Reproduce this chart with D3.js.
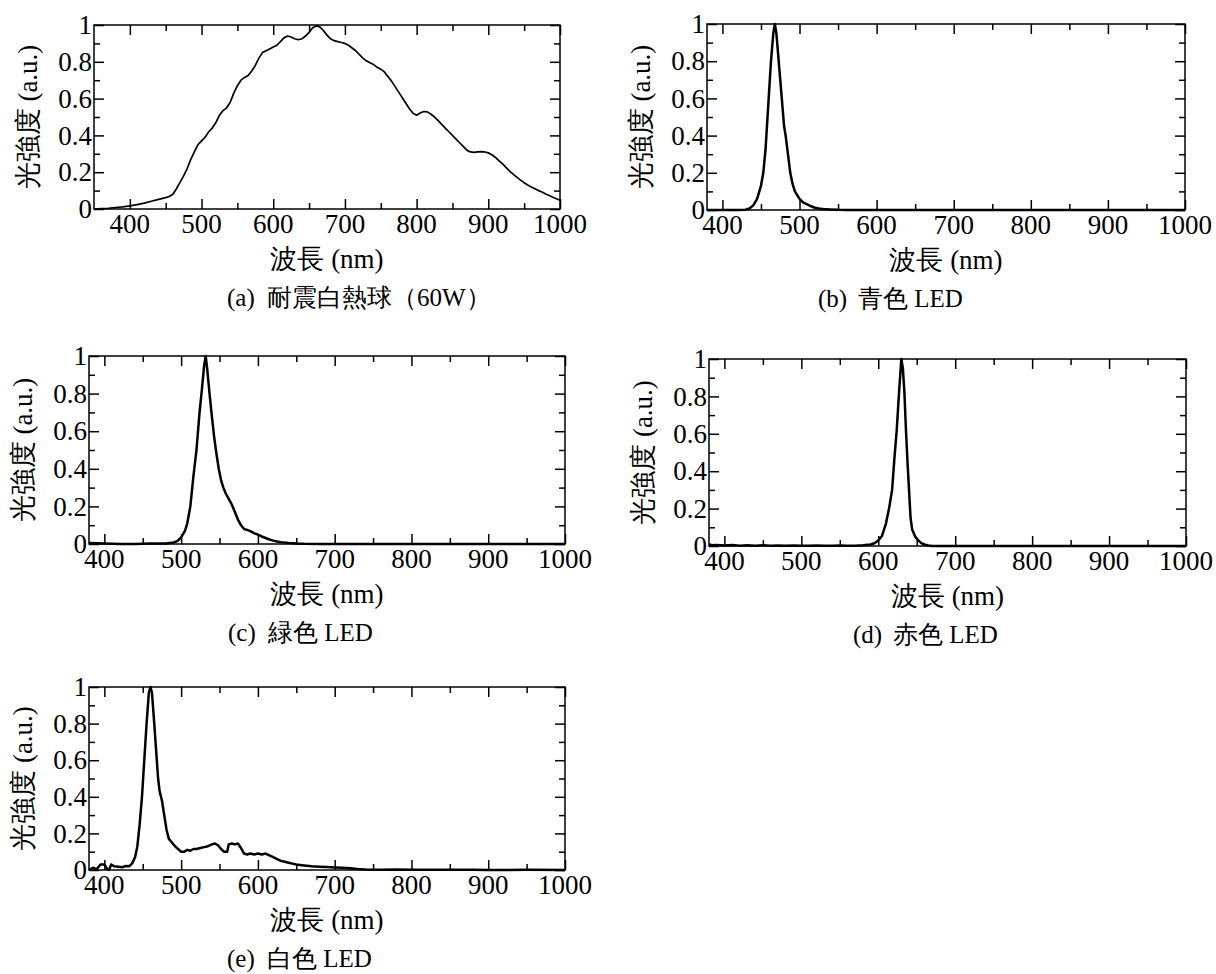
<!DOCTYPE html>
<html>
  <head>
    <meta charset="utf-8">
    <script src="https://d3js.org/d3.v7.min.js"></script>
    <style>
      body {
          margin: 0;
          background: #fff;
      }
      .frame { fill: none; stroke: #000; stroke-width: 1.5px; }
      .spectrum { fill: none; stroke: #000; stroke-linejoin: round; }
    </style>
  </head>
  <body>
    <svg width="1216" height="974"></svg>
    <script>

    var FONT = "Liberation Serif";

    // tick values
    var xMajor = [400, 500, 600, 700, 800, 900, 1000],
        xMinor = [350, 450, 550, 650, 750, 850, 950],
        yMajor = [0, 0.2, 0.4, 0.6, 0.8, 1],
        yMinor = [0.1, 0.3, 0.5, 0.7, 0.9];

    // (a) 耐震白熱球 (60W)
    var wlA = [350,360,370,380,390,400,410,420,430,440,450,455,460,465,470,475,480,485,490,495,
               500,505,510,515,520,525,530,535,540,545,550,555,560,565,570,575,580,585,590,595,
               600,605,610,615,620,625,630,635,640,645,650,655,660,665,670,675,680,685,690,695,
               700,705,710,715,720,725,730,735,740,745,750,755,760,765,770,775,780,785,790,795,
               800,805,810,815,820,825,830,835,840,845,850,855,860,865,870,875,880,885,890,895,
               900,905,910,915,920,925,930,935,940,945,950,955,960,965,970,975,980,985,990,995,1000];
    var intA = [0.000,0.002,0.004,0.008,0.012,0.017,0.024,0.032,0.042,0.052,0.062,0.068,0.080,0.110,0.145,0.180,0.220,0.270,0.310,0.350,
                0.370,0.390,0.420,0.440,0.470,0.510,0.535,0.550,0.580,0.630,0.670,0.700,0.715,0.725,0.750,0.780,0.820,0.850,0.860,0.870,
                0.880,0.890,0.910,0.930,0.940,0.935,0.925,0.920,0.925,0.940,0.960,0.985,0.995,0.990,0.970,0.945,0.925,0.915,0.910,0.905,
                0.900,0.890,0.875,0.860,0.840,0.820,0.805,0.795,0.785,0.770,0.760,0.745,0.720,0.695,0.665,0.635,0.605,0.575,0.545,0.520,
                0.510,0.522,0.530,0.528,0.515,0.500,0.480,0.460,0.440,0.420,0.400,0.380,0.360,0.340,0.320,0.310,0.308,0.310,0.312,0.310,
                0.305,0.295,0.280,0.262,0.245,0.225,0.205,0.188,0.172,0.157,0.143,0.130,0.120,0.110,0.100,0.092,0.082,0.073,0.064,0.056,0.048];

    // (b) 青色 LED
    var wlB = [380,420,430,435,440,445,450,453,456,460,463,466,468,470,473,477,480,482,485,488,491,494,
               500,505,510,515,520,525,530,540,550,560,1000];
    var intB = [0,0,0.002,0.008,0.025,0.06,0.13,0.2,0.33,0.6,0.8,0.95,1.0,0.95,0.8,0.6,0.45,0.4,0.3,0.2,0.14,0.1,
                0.06,0.04,0.03,0.02,0.012,0.008,0.005,0.003,0.001,0,0];

    // (c) 緑色 LED
    var wlC = [380,390,400,420,440,460,480,490,495,500,505,508,512,516,520,524,527,530,532,534,537,540,543,546,549,552,555,558,
               562,566,570,574,578,582,586,590,595,600,605,610,615,620,625,630,640,650,660,680,1000];
    var intC = [0.005,0.004,0.003,0,0,0.002,0.003,0.008,0.015,0.035,0.07,0.11,0.2,0.36,0.5,0.7,0.82,0.95,1.0,0.93,0.8,0.68,0.57,0.48,0.40,0.34,0.30,0.27,
                0.24,0.21,0.17,0.13,0.10,0.08,0.075,0.068,0.058,0.05,0.04,0.032,0.024,0.018,0.013,0.01,0.006,0.003,0.001,0,0];

    // (d) 赤色 LED
    var wlD = [380,385,390,400,410,420,430,440,450,460,470,480,490,500,510,520,530,540,550,560,570,580,590,595,
               600,605,610,614,618,621,624,627,630,632,634,636,638,640,642,644,648,652,656,660,665,670,1000];
    var intD = [0.008,0.004,0.006,0.003,0.005,0.002,0.004,0.001,0.004,0.002,0.003,0.001,0.003,0.002,0.001,0.003,0.001,0.002,0.003,0.001,0.002,0.004,0.008,0.015,
                0.03,0.055,0.12,0.2,0.3,0.47,0.62,0.82,1.0,0.95,0.82,0.62,0.45,0.3,0.15,0.09,0.05,0.03,0.015,0.008,0.003,0,0];

    // (e) 白色 LED
    var wlE = [380,385,390,395,400,403,406,409,413,418,423,428,432,436,440,443,446,449,452,455,458,460,462,465,468,470,472,475,478,481,484,488,492,496,
               500,504,508,512,516,520,525,530,535,540,544,548,552,556,560,562,566,570,574,578,582,586,590,595,
               600,605,610,615,620,625,630,635,640,645,650,660,670,680,690,700,710,720,730,740,760,780,800,820,850,880,900,950,1000];
    var intE = [0.0,0.012,0.005,0.03,0.03,0.01,0.0,0.03,0.02,0.018,0.015,0.022,0.02,0.035,0.07,0.13,0.25,0.4,0.6,0.8,0.97,1.0,0.97,0.8,0.62,0.5,0.43,0.38,0.3,0.22,0.17,0.15,0.13,0.115,
                0.1,0.1,0.11,0.105,0.115,0.115,0.12,0.125,0.13,0.14,0.145,0.135,0.115,0.1,0.1,0.14,0.145,0.14,0.145,0.12,0.09,0.085,0.09,0.085,
                0.09,0.085,0.09,0.08,0.07,0.06,0.05,0.045,0.04,0.035,0.03,0.025,0.02,0.018,0.016,0.014,0.012,0.01,0.005,0.003,0.002,0.003,0.001,0.002,0.001,0.002,0,0.001,0];

    var panels = [
      {wl: wlA, v: intA, xMin: 350, left: 94,  right: 560,  top: 25,  bottom: 209, lw: 1.7, tag: "(a)", cap: "耐震白熱球（60W）", capX: 227},
      {wl: wlB, v: intB, xMin: 380, left: 707, right: 1185, top: 24,  bottom: 210, lw: 2.5, tag: "(b)", cap: "青色 LED", capX: 818},
      {wl: wlC, v: intC, xMin: 380, left: 89,  right: 565,  top: 356, bottom: 544, lw: 2.5, tag: "(c)", cap: "緑色 LED", capX: 228},
      {wl: wlD, v: intD, xMin: 380, left: 709, right: 1186, top: 359, bottom: 546, lw: 2.5, tag: "(d)", cap: "赤色 LED", capX: 853},
      {wl: wlE, v: intE, xMin: 380, left: 89,  right: 565,  top: 687, bottom: 870, lw: 2.5, tag: "(e)", cap: "白色 LED", capX: 227}
    ];

    var svg = d3.select("svg");

    function yFmt(d) { return d === 0 ? "0" : d === 1 ? "1" : d.toFixed(1); }

    function tickAxis(g, axis, tr) {
      g.append("g")
        .attr("transform", tr)
        .call(axis.tickFormat(""))
        .call(function(s) { s.select(".domain").remove(); s.selectAll("line").attr("stroke", "#000").attr("stroke-width", 1.5); });
    }

    panels.forEach(function(p) {
      var x = d3.scaleLinear().domain([p.xMin, 1000]).range([p.left, p.right]),
          y = d3.scaleLinear().domain([0, 1]).range([p.bottom, p.top]);
      var g = svg.append("g");
      var minX = xMinor.filter(function(d) { return d > p.xMin; });

      // inward ticks on all four sides
      tickAxis(g, d3.axisBottom(x).tickValues(xMajor).tickSize(-10), "translate(0," + p.bottom + ")");
      tickAxis(g, d3.axisBottom(x).tickValues(minX).tickSize(-6), "translate(0," + p.bottom + ")");
      tickAxis(g, d3.axisTop(x).tickValues(xMajor).tickSize(-10), "translate(0," + p.top + ")");
      tickAxis(g, d3.axisTop(x).tickValues(minX).tickSize(-6), "translate(0," + p.top + ")");
      tickAxis(g, d3.axisLeft(y).tickValues(yMajor).tickSize(-10), "translate(" + p.left + ",0)");
      tickAxis(g, d3.axisLeft(y).tickValues(yMinor).tickSize(-6), "translate(" + p.left + ",0)");
      tickAxis(g, d3.axisRight(y).tickValues(yMajor).tickSize(-10), "translate(" + p.right + ",0)");
      tickAxis(g, d3.axisRight(y).tickValues(yMinor).tickSize(-6), "translate(" + p.right + ",0)");

      g.append("rect").attr("class", "frame")
        .attr("x", p.left).attr("y", p.top)
        .attr("width", p.right - p.left).attr("height", p.bottom - p.top);

      // spectrum
      var line = d3.line()
        .x(function(d, i) { return x(p.wl[i]); })
        .y(function(d) { return y(d); });
      g.append("path").attr("class", "spectrum")
        .attr("stroke-width", p.lw)
        .attr("d", line(p.v));

      // tick labels
      g.selectAll(".xl").data(xMajor).enter().append("text")
        .style("font-family", FONT).style("font-size", "27px")
        .attr("x", function(d) { return x(d); })
        .attr("y", p.bottom + 24)
        .attr("text-anchor", "middle")
        .text(function(d) { return d; });
      g.selectAll(".yl").data(yMajor).enter().append("text")
        .style("font-family", FONT).style("font-size", "27px")
        .attr("x", p.left - 2)
        .attr("y", function(d) { return y(d); })
        .attr("dy", "0.34em")
        .attr("text-anchor", "end")
        .text(yFmt);

      // axis titles
      g.append("text")
        .style("font-family", FONT).style("font-size", "27px")
        .attr("x", (p.left + p.right) / 2)
        .attr("y", p.bottom + 59)
        .attr("text-anchor", "middle")
        .text("波長 (nm)");
      g.append("text")
        .style("font-family", FONT).style("font-size", "27px")
        .attr("transform", "translate(" + (p.left - 66) + "," + ((p.top + p.bottom) / 2) + ") rotate(-90)")
        .attr("dy", "0.35em")
        .attr("text-anchor", "middle")
        .text("光強度 (a.u.)");

      // caption
      var c = g.append("text")
        .style("font-family", FONT).style("font-size", "25px")
        .attr("x", p.capX)
        .attr("y", p.bottom + 97);
      c.append("tspan").text(p.tag);
      c.append("tspan").attr("x", p.capX + 40).text(p.cap);
    });

    </script>
  </body>
</html>
